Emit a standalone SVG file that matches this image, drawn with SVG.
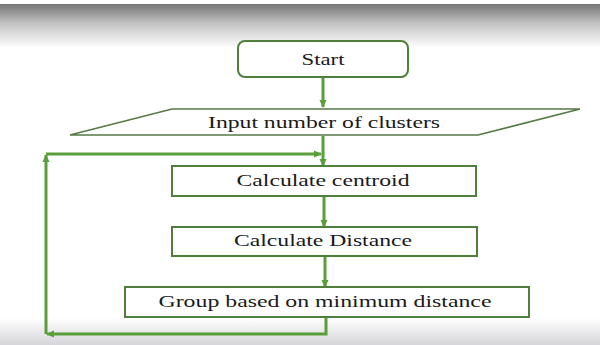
<svg xmlns="http://www.w3.org/2000/svg" width="600" height="345" viewBox="0 0 600 345">
<defs>
<linearGradient id="topg" x1="0" y1="0" x2="0" y2="1">
<stop offset="0" stop-color="#767676"/>
<stop offset="0.45" stop-color="#c4c4c4"/>
<stop offset="1" stop-color="#ffffff"/>
</linearGradient>
<linearGradient id="botg" x1="0" y1="0" x2="0" y2="1">
<stop offset="0" stop-color="#ffffff"/>
<stop offset="1" stop-color="#d6d6da"/>
</linearGradient>
<marker id="ah" markerWidth="8" markerHeight="8" refX="7" refY="4" orient="auto" markerUnits="userSpaceOnUse">
<path d="M0,0.5 L8,4 L0,7.5 Z" fill="#5a9e3a"/>
</marker>
</defs>
<style>
.node{fill:#ffffff;stroke:#4f7f3a;stroke-width:2}
.para{fill:#ffffff;stroke:#557a45;stroke-width:1.6}
.conn{fill:none;stroke:#5a9e3a;stroke-width:3;marker-end:url(#ah)}
text{font-family:"Liberation Serif","Times New Roman",serif;font-size:16px;fill:#1a1a1a;text-anchor:middle}
</style>
<rect x="0" y="0" width="600" height="345" fill="#ffffff"/>
<rect x="0" y="4" width="600" height="44" fill="url(#topg)"/>
<rect x="0" y="318" width="600" height="27" fill="url(#botg)"/>

<g id="connectors">
<path class="conn" d="M323,78 L323,107"/>
<path class="conn" d="M323,136 L323,166"/>
<path class="conn" d="M46,154 L321,154"/>
<path class="conn" d="M324,197 L324,227"/>
<path class="conn" d="M325,257 L325,287"/>
<path class="conn" d="M326,318 L326,334 L47,334"/>
<path class="conn" d="M46,334 L46,155"/>
</g>

<g id="start">
<rect class="node" x="238" y="41" width="170" height="36" rx="7"/>
<text x="323" y="65" textLength="43" lengthAdjust="spacingAndGlyphs">Start</text>
</g>
<g id="input">
<polygon class="para" points="172,109 580,109 478,135 70,135"/>
<text x="324" y="128" textLength="232" lengthAdjust="spacingAndGlyphs">Input number of clusters</text>
</g>
<g id="centroid">
<rect class="node" x="172" y="166" width="304" height="30"/>
<text x="323" y="186" textLength="173" lengthAdjust="spacingAndGlyphs">Calculate centroid</text>
</g>
<g id="distance">
<rect class="node" x="172" y="227" width="305" height="29"/>
<text x="323" y="246" textLength="178" lengthAdjust="spacingAndGlyphs">Calculate Distance</text>
</g>
<g id="group">
<rect class="node" x="125" y="287" width="404" height="30"/>
<text x="325" y="307" textLength="333" lengthAdjust="spacingAndGlyphs">Group based on minimum distance</text>
</g>
</svg>
